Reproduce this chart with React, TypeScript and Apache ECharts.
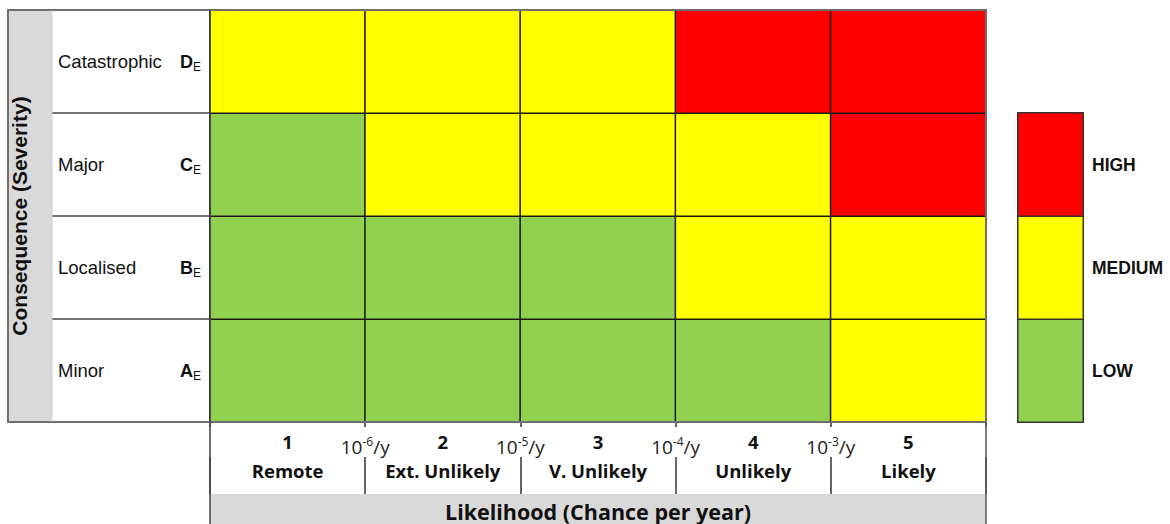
import React, { useEffect, useRef } from "react";
import * as echarts from "echarts";

const likelihoodNums = ["1", "2", "3", "4", "5"];
const likelihoodNames = ["Remote", "Ext. Unlikely", "V. Unlikely", "Unlikely", "Likely"];
const boundaryExps = ["-6", "-5", "-4", "-3"];
const severityNames = ["Minor", "Localised", "Major", "Catastrophic"];
const severityCodes = ["A", "B", "C", "D"];
const riskLevels = ["LOW", "MEDIUM", "HIGH"];
const riskColors = ["#92D050", "#FFFF00", "#FF0000"];
// risk level index per likelihood column, rows from Minor (bottom) to Catastrophic (top)
const rowMinor = [0, 0, 0, 0, 1];
const rowLocalised = [0, 0, 0, 1, 1];
const rowMajor = [0, 1, 1, 1, 2];
const rowCatastrophic = [1, 1, 1, 2, 2];
const matrixRows = [rowMinor, rowLocalised, rowMajor, rowCatastrophic];

const SANS = "'Liberation Sans', Arial, sans-serif";
const OPEN = "'Open Sans', 'Noto Sans', sans-serif";

export default function App() {
  const ref = useRef<HTMLDivElement>(null);
  useEffect(() => {
    if (!ref.current) return;
    const chart = echarts.init(ref.current, undefined, { renderer: "svg" });
    const heat: number[][] = [];
    matrixRows.forEach((row, y) => row.forEach((v, x) => heat.push([x, y, v])));
    const legendData = riskLevels.map((_, i) => [0, i, i]);

    chart.setOption({
      animation: false,
      backgroundColor: "#ffffff",
      grid: [
        { left: 210, top: 10, width: 776, height: 412, outerBoundsMode: "none", containLabel: false },
        { left: 1018, top: 113, width: 65, height: 309, outerBoundsMode: "none", containLabel: false },
      ],
      visualMap: {
        type: "piecewise",
        show: false,
        seriesIndex: [0, 1],
        dimension: 2,
        pieces: riskColors.map((c, i) => ({ value: i, color: c })),
      },
      xAxis: [
        {
          type: "category",
          gridIndex: 0,
          data: likelihoodNums,
          position: "bottom",
          axisLine: { show: false },
          axisTick: { show: true, length: 5, lineStyle: { color: "#333", width: 1.5 } },
          splitLine: { show: false },
          axisLabel: {
            margin: 6,
            formatter: (v: string, i: number) => `{n|${v}}\n{l|${likelihoodNames[i]}}`,
            rich: {
              n: { fontFamily: OPEN, fontWeight: "bold", fontSize: 18.5, lineHeight: 26, color: "#111", align: "center" },
              l: { fontFamily: OPEN, fontWeight: "bold", fontSize: 18.5, lineHeight: 32, color: "#111", align: "center" },
            },
          },
        },
        {
          type: "value",
          gridIndex: 0,
          min: 0,
          max: 5,
          interval: 1,
          position: "bottom",
          axisLine: { show: false },
          axisTick: { show: false },
          splitLine: { show: false },
          axisLabel: {
            margin: 13,
            showMinLabel: true,
            showMaxLabel: true,
            formatter: (v: number) => {
              const i = Math.round(v) - 1;
              return i >= 0 && i < boundaryExps.length ? `{b|10}{s|${boundaryExps[i]}}{b|/y}` : "";
            },
            rich: {
              b: { fontFamily: OPEN, fontSize: 19, lineHeight: 24, color: "#222" },
              s: { fontFamily: OPEN, fontSize: 12, lineHeight: 12, verticalAlign: "top", color: "#222" },
            },
          },
        },
        {
          type: "category",
          gridIndex: 0,
          data: likelihoodNums,
          position: "bottom",
          offset: 72,
          axisLine: { show: false },
          axisTick: { show: true, inside: true, length: 37, lineStyle: { color: "#333", width: 1.5 } },
          axisLabel: { show: false },
          splitLine: { show: false },
          name: "Likelihood (Chance per year)",
          nameLocation: "middle",
          nameGap: 6,
          nameTextStyle: { fontFamily: OPEN, fontWeight: "bold", fontSize: 21.5, color: "#111" },
        },
        {
          type: "category",
          gridIndex: 1,
          data: [""],
          axisLine: { show: false },
          axisTick: { show: false },
          axisLabel: { show: false },
          splitLine: { show: false },
        },
      ],
      yAxis: [
        {
          type: "category",
          gridIndex: 0,
          data: severityNames,
          position: "left",
          axisLine: { show: false },
          axisTick: { show: true, length: 158, lineStyle: { color: "#444", width: 1.5 } },
          splitLine: { show: false },
          axisLabel: { margin: 152, align: "left", fontFamily: SANS, fontSize: 18.5, color: "#111" },
          name: "Consequence (Severity)",
          nameLocation: "middle",
          nameRotate: 90,
          nameGap: 180,
          nameTextStyle: { fontFamily: SANS, fontWeight: "bold", fontSize: 21, color: "#111" },
        },
        {
          type: "category",
          gridIndex: 0,
          data: severityCodes,
          position: "left",
          axisLine: { show: false },
          axisTick: { show: false },
          splitLine: { show: false },
          axisLabel: {
            margin: 30,
            align: "left",
            formatter: (v: string) => `{c|${v}}{e|E}`,
            rich: {
              c: { fontFamily: SANS, fontWeight: "bold", fontSize: 18, lineHeight: 22, color: "#111" },
              e: { fontFamily: SANS, fontSize: 12, verticalAlign: "bottom", color: "#111" },
            },
          },
        },
        {
          type: "category",
          gridIndex: 1,
          data: riskLevels,
          position: "right",
          axisLine: { show: false },
          axisTick: { show: false },
          splitLine: { show: false },
          axisLabel: { margin: 9, align: "left", fontFamily: SANS, fontWeight: "bold", fontSize: 17.5, color: "#111" },
        },
      ],
      series: [
        {
          type: "heatmap",
          xAxisIndex: 0,
          yAxisIndex: 0,
          data: heat,
          itemStyle: { borderColor: "#1a1a1a", borderWidth: 1.5 },
          label: { show: false },
          emphasis: { disabled: true },
        },
        {
          type: "heatmap",
          xAxisIndex: 3,
          yAxisIndex: 2,
          data: legendData,
          itemStyle: { borderColor: "#333", borderWidth: 1.5 },
          label: { show: false },
          emphasis: { disabled: true },
        },
      ],
      graphic: [
        { type: "rect", z: -10, silent: true, shape: { x: 8, y: 10, width: 44, height: 412 }, style: { fill: "#D9D9D9" } },
        { type: "rect", z: -10, silent: true, shape: { x: 210, y: 494, width: 776, height: 30 }, style: { fill: "#D9D9D9" } },
        { type: "rect", z: 100, silent: true, shape: { x: 8, y: 10, width: 978, height: 412 }, style: { fill: "none", stroke: "#6e6e6e", lineWidth: 2 } },
        { type: "line", z: 100, silent: true, shape: { x1: 52, y1: 10, x2: 52, y2: 422 }, style: { stroke: "#cfcfcf", lineWidth: 1 } },
        { type: "line", z: 100, silent: true, shape: { x1: 210, y1: 10, x2: 210, y2: 524 }, style: { stroke: "#444", lineWidth: 1.5 } },
        { type: "line", z: 100, silent: true, shape: { x1: 986, y1: 422, x2: 986, y2: 524 }, style: { stroke: "#555", lineWidth: 1.5 } },
      ],
    });
    return () => chart.dispose();
  }, []);
  return <div ref={ref} style={{ position: "absolute", left: 0, top: 0, width: 1170, height: 524 }} />;
}
